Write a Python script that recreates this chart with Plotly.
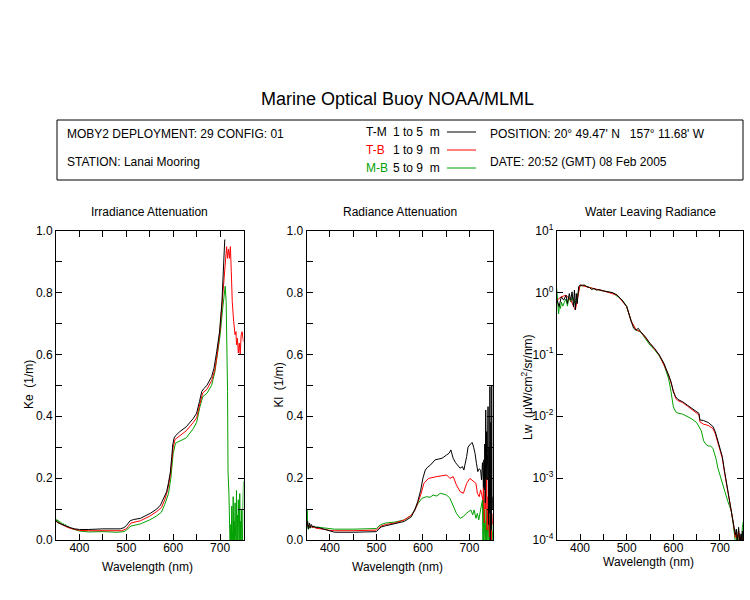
import plotly.graph_objects as go

# ---- Irradiance attenuation Ke (1/m) ----
ke_wl_tm = [350, 355, 360, 366, 373, 380, 390, 400, 420, 450, 487, 495, 501, 508, 515, 530,
            551, 565, 573, 580, 586, 590, 594, 597, 599, 602, 605, 614, 628, 643, 650, 656,
            661, 666, 672, 682, 687, 693, 699, 704, 707, 710, 711]
ke_tm = [0.062, 0.055, 0.052, 0.048, 0.043, 0.040, 0.036, 0.034, 0.034, 0.036, 0.036, 0.040,
         0.048, 0.062, 0.066, 0.070, 0.086, 0.100, 0.113, 0.135, 0.156, 0.185, 0.220, 0.270,
         0.307, 0.330, 0.337, 0.350, 0.366, 0.393, 0.410, 0.447, 0.480, 0.490, 0.500, 0.528,
         0.555, 0.610, 0.673, 0.770, 0.890, 0.970, 0.970]

ke_wl_tb = [350, 355, 360, 366, 373, 380, 390, 400, 420, 450, 490, 500, 505, 510, 530, 550,
            565, 575, 582, 588, 594, 597, 600, 604, 614, 628, 643, 650, 657, 663, 672, 682,
            689, 694, 700, 704, 708, 711, 714, 716, 718, 720, 722, 724, 726, 729, 732, 734,
            735, 737, 739, 741, 743, 745, 747, 750]
ke_tb = [0.060, 0.056, 0.050, 0.047, 0.042, 0.038, 0.034, 0.031, 0.030, 0.030, 0.030, 0.036,
         0.045, 0.055, 0.062, 0.077, 0.092, 0.105, 0.130, 0.160, 0.210, 0.260, 0.300, 0.325,
         0.338, 0.353, 0.380, 0.395, 0.440, 0.475, 0.487, 0.515, 0.550, 0.600, 0.680, 0.750,
         0.820, 0.900, 0.948, 0.910, 0.940, 0.910, 0.948, 0.867, 0.770, 0.706, 0.663, 0.673,
         0.630, 0.652, 0.604, 0.636, 0.600, 0.663, 0.673, 0.640]

ke_wl_mb = [350, 352, 354, 356, 358, 360, 362, 364, 366, 368, 370, 373, 376, 380, 385, 390,
            400, 420, 450, 480, 495, 500, 505, 510, 530, 550, 565, 575, 582, 590, 595, 600,
            605, 614, 628, 643, 650, 657, 663, 672, 682, 689, 694, 700, 705, 709, 711, 713,
            714, 716, 717, 719, 721, 722, 723, 724, 725, 726, 727, 728, 729, 730, 731, 732,
            733, 734, 735, 736, 737, 738, 739, 740, 741, 742, 743, 744, 745, 746, 747, 748,
            749, 750]
ke_mb = [0.068, 0.060, 0.065, 0.055, 0.060, 0.052, 0.056, 0.048, 0.053, 0.045, 0.050, 0.043,
         0.045, 0.039, 0.036, 0.033, 0.029, 0.026, 0.027, 0.025, 0.027, 0.032, 0.038, 0.045,
         0.052, 0.065, 0.078, 0.090, 0.115, 0.150, 0.200, 0.280, 0.313, 0.320, 0.330, 0.360,
         0.380, 0.430, 0.463, 0.474, 0.500, 0.544, 0.598, 0.660, 0.740, 0.800, 0.820, 0.770,
         0.706, 0.480, 0.220, 0.145, 0.000, 0.000, 0.050, 0.000, 0.110, 0.000, 0.030, 0.140,
         0.000, 0.060, 0.000, 0.120, 0.020, 0.000, 0.160, 0.000, 0.080, 0.000, 0.130, 0.040,
         0.000, 0.150, 0.000, 0.060, 0.000, 0.100, 0.020, 0.000, 0.120, 0.190]

# ---- Radiance attenuation Kl (1/m) ----
kl_wl_tm = [350, 352, 354, 356, 358, 360, 363, 366, 370, 375, 380, 390, 400, 410, 450, 495,
            500, 505, 510, 520, 540, 560, 575, 583, 589, 595, 600, 605, 610, 616, 626, 641,
            651, 656, 660, 665, 670, 674, 680, 685, 688, 694, 697, 702, 706, 709, 712, 715,
            718, 721, 724, 726, 728, 729, 730, 731, 732, 733, 734, 735, 736, 737, 738, 739,
            740, 741, 742, 743, 744, 745, 746, 747, 748, 749, 750]
kl_tm = [0.040, 0.060, 0.035, 0.055, 0.040, 0.050, 0.042, 0.045, 0.040, 0.041, 0.038, 0.033,
         0.028, 0.025, 0.025, 0.025, 0.027, 0.035, 0.042, 0.046, 0.052, 0.060, 0.075, 0.100,
         0.125, 0.160, 0.200, 0.226, 0.235, 0.242, 0.259, 0.264, 0.275, 0.280, 0.291, 0.264,
         0.250, 0.242, 0.232, 0.237, 0.226, 0.270, 0.300, 0.310, 0.315, 0.300, 0.280, 0.248,
         0.221, 0.230, 0.226, 0.194, 0.250, 0.220, 0.170, 0.259, 0.162, 0.310, 0.120, 0.420,
         0.200, 0.350, 0.194, 0.280, 0.431, 0.050, 0.300, 0.087, 0.496, 0.000, 0.380, 0.032,
         0.500, 0.100, 0.140]

kl_wl_tb = [350, 352, 355, 358, 362, 366, 370, 380, 390, 400, 410, 450, 495, 500, 505, 510,
            520, 540, 560, 575, 583, 589, 595, 602, 612, 630, 645, 651, 658, 665, 672, 680,
            687, 694, 701, 709, 714, 717, 721, 724, 727, 729, 730, 732, 734, 735, 737, 738,
            740, 742, 743, 745, 747, 748, 750]
kl_tb = [0.045, 0.050, 0.042, 0.046, 0.040, 0.042, 0.038, 0.037, 0.034, 0.031, 0.030, 0.030,
         0.030, 0.032, 0.040, 0.045, 0.050, 0.055, 0.065, 0.080, 0.097, 0.120, 0.145, 0.183,
         0.199, 0.205, 0.207, 0.210, 0.199, 0.205, 0.178, 0.156, 0.151, 0.183, 0.199, 0.188,
         0.183, 0.151, 0.140, 0.162, 0.145, 0.130, 0.170, 0.055, 0.160, 0.100, 0.200, 0.032,
         0.140, 0.065, 0.010, 0.120, 0.000, 0.087, 0.050]

kl_wl_mb = [350, 351, 352, 353, 355, 357, 360, 365, 370, 380, 390, 400, 410, 450, 495, 500,
            505, 510, 520, 540, 560, 575, 583, 590, 598, 608, 615, 622, 630, 637, 645, 651,
            658, 665, 672, 680, 687, 693, 698, 703, 707, 710, 714, 717, 720, 723, 726, 728,
            729, 730, 731, 733, 734, 736, 737, 739, 740, 742, 743, 745, 746, 748, 749, 750]
kl_mb = [0.060, 0.100, 0.050, 0.035, 0.045, 0.038, 0.042, 0.040, 0.042, 0.040, 0.037, 0.035,
         0.035, 0.035, 0.035, 0.037, 0.045, 0.050, 0.055, 0.058, 0.065, 0.080, 0.100, 0.119,
         0.135, 0.140, 0.138, 0.145, 0.142, 0.151, 0.148, 0.145, 0.135, 0.113, 0.086, 0.070,
         0.076, 0.086, 0.092, 0.097, 0.081, 0.097, 0.070, 0.086, 0.065, 0.092, 0.108, 0.130,
         0.000, 0.130, 0.000, 0.060, 0.000, 0.100, 0.000, 0.040, 0.000, 0.120, 0.000, 0.050,
         0.000, 0.080, 0.000, 0.030]

# ---- Water leaving radiance Lw (uW/cm^2/sr/nm) ----
lw_wl_tm = [351, 355, 360, 365, 370, 373, 377, 380, 383, 386, 388, 390, 392, 394, 397, 400,
            405, 410, 415, 420, 425, 430, 435, 440, 450, 460, 470, 480, 490, 500, 505, 510,
            515, 520, 525, 530, 540, 550, 560, 570, 580, 590, 595, 600, 605, 610, 620, 630,
            640, 650, 655, 657, 665, 675, 685, 690, 695, 700, 705, 710, 715, 720, 725, 728,
            730, 733, 735, 737, 738, 740, 742, 743, 745, 747, 748, 750]
lw_tm = [0.75, 0.59, 0.85, 0.75, 0.90, 0.66, 0.96, 0.75, 1.02, 0.59, 1.09, 0.52,
         0.96, 0.66, 1.23, 1.31, 1.31, 1.31, 1.23, 1.20, 1.11, 1.16, 1.09, 1.11,
         1.06, 1.02, 0.99, 0.90, 0.75, 0.59, 0.43, 0.335, 0.263, 0.245, 0.263, 0.231,
         0.192, 0.150, 0.124, 0.097, 0.0713, 0.0461, 0.0363, 0.0248, 0.0206, 0.0186, 0.0171, 0.0151,
         0.0134, 0.0118, 0.0111, 0.0087, 0.0085, 0.0079, 0.0068, 0.0056, 0.0041, 0.0030, 0.00222, 0.00127,
         0.00078, 0.00050, 0.000305, 0.00021, 0.000174, 0.00012, 0.00015, 0.00010, 0.000112, 0.00016,
         0.00010, 0.00008, 0.000126, 0.00010, 0.00014, 0.00010]

lw_wl_tb = [351, 360, 370, 380, 390, 400, 420, 450, 480, 500, 510, 520, 530, 550, 570, 590,
            600, 605, 610, 620, 630, 640, 650, 655, 657, 665, 675, 685, 690, 695, 700, 705,
            710, 715, 720, 725, 728, 730, 733, 735, 738, 740, 743, 745, 748, 750]
lw_tb = [0.75, 0.85, 0.90, 0.75, 0.52, 1.31, 1.20, 1.06, 0.90, 0.59, 0.34, 0.25,
         0.231, 0.150, 0.097, 0.0461, 0.0245, 0.0195, 0.0178, 0.0166, 0.0146, 0.0129, 0.0112, 0.0105,
         0.0081, 0.0074, 0.0071, 0.0063, 0.0052, 0.0038, 0.0028, 0.0021, 0.0012, 0.00075, 0.00048, 0.00030,
         0.00020, 0.00016, 0.00011, 0.00013, 0.00010, 0.00014, 0.00009, 0.00012, 0.00010, 0.00011]

lw_wl_mb = [350, 352, 354, 356, 358, 360, 363, 366, 370, 373, 376, 380, 384, 388, 390, 393,
            397, 400, 410, 430, 450, 470, 490, 500, 510, 520, 530, 550, 560, 570, 580, 590,
            595, 600, 605, 610, 620, 630, 640, 650, 657, 660, 665, 670, 675, 680, 685, 688,
            692, 695, 700, 705, 710, 716, 720, 724, 728, 730, 732, 734, 736, 738, 740, 742,
            744, 746, 748, 750]
lw_mb = [1.15, 0.60, 0.45, 0.62, 0.55, 0.70, 0.60, 0.68, 0.78, 0.60, 0.85, 0.70,
         0.85, 0.72, 0.62, 0.80, 1.00, 1.28, 1.28, 1.14, 1.05, 0.98, 0.76, 0.60,
         0.34, 0.245, 0.23, 0.14, 0.118, 0.094, 0.068, 0.040, 0.025, 0.0142, 0.0118, 0.0112,
         0.0108, 0.0100, 0.0090, 0.0079, 0.0065, 0.0058, 0.0040, 0.0035, 0.0033, 0.0033, 0.0030, 0.0025,
         0.0020, 0.0015, 0.0011, 0.00085, 0.00062, 0.00044, 0.00036, 0.00030, 0.00019, 0.00014, 0.00010, 0.00008,
         0.00012, 0.00009, 0.00013, 0.00008, 0.00010, 0.00007, 0.00016, 0.00020]

NB = "\u00a0"
series_names = ["M-B", "T-B", "T-M"]
series_colors = ["#00a000", "#ff0000", "#000000"]
panel_titles = ["Irradiance Attenuation", "Radiance Attenuation", "Water Leaving Radiance"]
y_titles = ["Ke" + NB * 2 + "(1/m)", "Kl" + NB * 2 + "(1/m)",
            "Lw" + NB * 2 + "(\u03bcW/cm<sup>2</sup>/sr/nm)"]
log_ticks = [1e-4, 1e-3, 1e-2, 1e-1, 1, 10]
log_labels = ["10<sup>-4</sup>", "10<sup>-3</sup>", "10<sup>-2</sup>",
              "10<sup>-1</sup>", "10<sup>0</sup>", "10<sup>1</sup>"]

W, H = 750, 600
FONT = "Liberation Sans, Arial, sans-serif"


def px(x):
    return x / W


def py(y):
    return 1 - y / H


panels = [
    [(ke_wl_mb, ke_mb), (ke_wl_tb, ke_tb), (ke_wl_tm, ke_tm)],
    [(kl_wl_mb, kl_mb), (kl_wl_tb, kl_tb), (kl_wl_tm, kl_tm)],
    [(lw_wl_mb, lw_mb), (lw_wl_tb, lw_tb), (lw_wl_tm, lw_tm)],
]
for panel in panels:
    for wl, vals in panel:
        assert len(wl) == len(vals)

x_edges = [(56, 243.5), (306.7, 492.7), (556.7, 743.3)]
plot_top, plot_bottom = 230.5, 540

fig = go.Figure()
for i, panel in enumerate(panels):
    n = "" if i == 0 else str(i + 1)
    for (wl, vals), name, color in zip(panel, series_names, series_colors):
        fig.add_trace(go.Scatter(
            x=wl, y=vals, mode="lines", name=name,
            line=dict(color=color, width=1),
            xaxis="x" + n, yaxis="y" + n, showlegend=False
        ))

axis_common = dict(
    showline=True, linecolor="black", linewidth=1, mirror="ticks",
    ticks="inside", ticklen=6, tickcolor="black", showgrid=False, zeroline=False,
    automargin=False, tickfont=dict(family=FONT, size=12, color="black"),
)
layout_axes = {}
for i, (x0, x1) in enumerate(x_edges):
    n = "" if i == 0 else str(i + 1)
    layout_axes["xaxis" + n] = dict(
        axis_common, domain=[px(x0), px(x1)], range=[350, 750],
        anchor="y" + n, tickvals=[400, 500, 600, 700], ticklabelstandoff=-3,
        minor=dict(ticks="inside", ticklen=6, tickcolor="black", tickvals=[350, 450, 550, 650, 750]),
    )
    ydom = [py(plot_bottom), py(plot_top)]
    if i < 2:
        layout_axes["yaxis" + n] = dict(
            axis_common, domain=ydom, range=[0, 1], anchor="x" + n,
            dtick=0.2, tickformat=".1f",
            minor=dict(ticks="inside", ticklen=6, tickcolor="black", dtick=0.1),
        )
    else:
        layout_axes["yaxis" + n] = dict(
            axis_common, domain=ydom, type="log", range=[-4, 1], anchor="x" + n,
            tickvals=log_ticks, ticktext=log_labels,
        )

annotations = []
title_font = dict(family=FONT, size=12, color="black")
for i, (x0, x1) in enumerate(x_edges):
    xc = (x0 + x1) / 2
    annotations.append(dict(text=panel_titles[i], x=px(xc), y=py(212), xref="paper", yref="paper",
                            showarrow=False, font=title_font, xanchor="center", yanchor="middle"))
    annotations.append(dict(text="Wavelength (nm)", x=px(xc - 2), y=py(567 if i < 2 else 562),
                            xref="paper", yref="paper", showarrow=False, font=title_font,
                            xanchor="center", yanchor="middle"))
y_title_x = [29, 278.5, 527]
y_title_y = [385, 385, 387]
for i in range(3):
    annotations.append(dict(text=y_titles[i], x=px(y_title_x[i]), y=py(y_title_y[i]),
                            xref="paper", yref="paper", showarrow=False, font=title_font,
                            textangle=-90, xanchor="center", yanchor="middle"))

# header
annotations.append(dict(text="Marine Optical Buoy NOAA/MLML", x=px(398), y=py(99),
                        xref="paper", yref="paper", showarrow=False,
                        font=dict(family=FONT, size=18, color="black"),
                        xanchor="center", yanchor="middle"))
info_left = ["MOBY2 DEPLOYMENT: 29 CONFIG: 01", "STATION: Lanai Mooring"]
info_right = ["POSITION: 20\u00b0 49.47' N" + NB * 3 + "157\u00b0 11.68' W",
              "DATE: 20:52 (GMT) 08 Feb 2005"]
info_y = [134, 162]
for txt, yy in zip(info_left, info_y):
    annotations.append(dict(text=txt, x=px(65), y=py(yy), xref="paper", yref="paper",
                            showarrow=False, font=title_font, xanchor="left", yanchor="middle"))
for txt, yy in zip(info_right, info_y):
    annotations.append(dict(text=txt, x=px(488), y=py(yy), xref="paper", yref="paper",
                            showarrow=False, font=title_font, xanchor="left", yanchor="middle"))

legend_labels = ["T-M", "T-B", "M-B"]
legend_depths = ["1 to 5" + NB * 2 + "m", "1 to 9" + NB * 2 + "m", "5 to 9" + NB * 2 + "m"]
legend_colors = ["#000000", "#ff0000", "#00a000"]
legend_y = [132, 150, 168]
shapes = [dict(type="rect", xref="paper", yref="paper", x0=px(57), x1=px(743),
               y0=py(180), y1=py(120), line=dict(color="black", width=1))]
for lab, dep, col, yy in zip(legend_labels, legend_depths, legend_colors, legend_y):
    annotations.append(dict(text=lab, x=px(364), y=py(yy), xref="paper", yref="paper",
                            showarrow=False, font=dict(family=FONT, size=12, color=col),
                            xanchor="left", yanchor="middle"))
    annotations.append(dict(text=dep, x=px(391), y=py(yy), xref="paper", yref="paper",
                            showarrow=False, font=title_font, xanchor="left", yanchor="middle"))
    shapes.append(dict(type="line", xref="paper", yref="paper", x0=px(447), x1=px(476),
                       y0=py(yy), y1=py(yy), line=dict(color=col, width=1)))

fig.update_layout(
    template="none",
    width=W, height=H, margin=dict(l=0, r=0, t=0, b=0, autoexpand=False),
    paper_bgcolor="white", plot_bgcolor="white",
    annotations=annotations, shapes=shapes, showlegend=False,
    font=dict(family=FONT, color="black"),
    **layout_axes,
)

fig.write_html("out.html", config={"displayModeBar": False},
               post_script="document.body.style.margin = '0';")
